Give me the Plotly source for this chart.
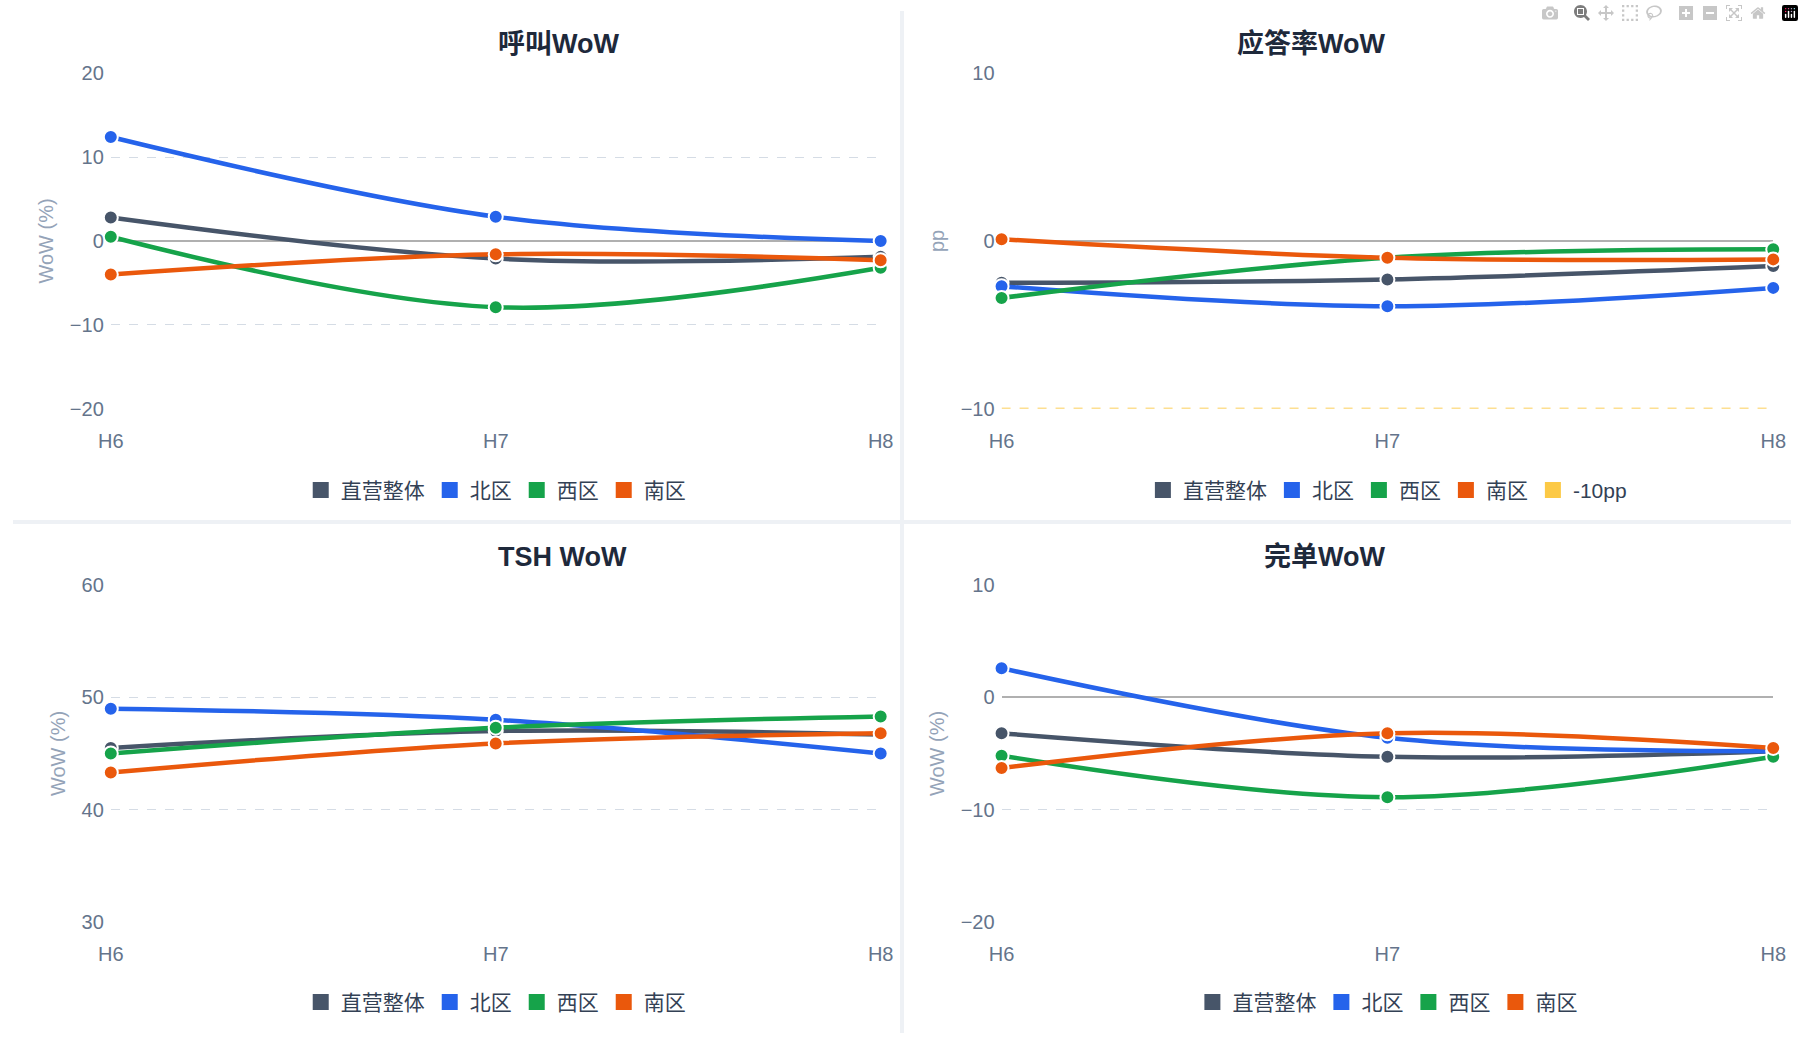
import plotly.graph_objects as go
from plotly.subplots import make_subplots

# data
hours = ["H6", "H7", "H8"]
series = ["直营整体", "北区", "西区", "南区"]
colors = ["#475569", "#2563eb", "#16a34a", "#ea580c"]

call_wow = [[2.8, -2.1, -1.9], [12.4, 2.9, 0.0], [0.5, -7.9, -3.2], [-4.0, -1.6, -2.3]]
answer_wow = [[-2.5, -2.3, -1.5], [-2.7, -3.9, -2.8], [-3.4, -1.0, -0.5], [0.1, -1.0, -1.1]]
tsh_wow = [[45.5, 47.0, 46.7], [49.0, 48.0, 45.0], [45.0, 47.3, 48.3], [43.3, 45.9, 46.8]]
done_wow = [[-3.2, -5.3, -4.8], [2.6, -3.6, -4.8], [-5.2, -8.9, -5.3], [-6.3, -3.2, -4.5]]
threshold = -10

panels = [
    ("呼叫WoW", call_wow, [-20, 20], [-20, -10, 0, 10, 20], "WoW (%)"),
    ("应答率WoW", answer_wow, [-10, 10], [-10, 0, 10], "pp"),
    ("TSH WoW", tsh_wow, [30, 60], [30, 40, 50, 60], "WoW (%)"),
    ("完单WoW", done_wow, [-20, 10], [-20, -10, 0, 10], "WoW (%)"),
]

fig = make_subplots(rows=2, cols=2)
pos = [(1, 1), (1, 2), (2, 1), (2, 2)]
xdom = [[0.055, 0.488], [0.556, 0.990]]
ydom = [[0.611, 0.939], [0.109, 0.438]]
legend_y = [0.531, 0.03]
title_y = [0.968, 0.466]
font = "Liberation Sans, Noto Sans CJK SC, sans-serif"

for i, (title, data, yr, ticks, ytitle) in enumerate(panels):
    r, c = pos[i]
    leg = "legend" if i == 0 else "legend%d" % (i + 1)
    for name, vals, col in zip(series, data, colors):
        fig.add_trace(go.Scatter(x=[0, 1, 2], y=vals, mode="lines+markers", name=name,
                                 line=dict(color=col, width=4.5, shape="spline"),
                                 marker=dict(size=14, color=col, line=dict(color="white", width=2)),
                                 cliponaxis=False, showlegend=False), row=r, col=c)
        fig.add_trace(go.Scatter(x=[None], y=[None], mode="markers", name=name,
                                 marker=dict(symbol="square", size=26, color=col),
                                 legend=leg, showlegend=True), row=r, col=c)
    if i == 1:
        fig.add_trace(go.Scatter(x=[0, 2], y=[threshold, threshold], mode="lines", showlegend=False,
                                 line=dict(color="#fbbf24", width=1.5, dash="dash")), row=r, col=c)
        fig.add_trace(go.Scatter(x=[None], y=[None], mode="markers", name="-10pp", legend=leg,
                                 marker=dict(symbol="square", size=26, color="rgba(251,191,36,0.85)")),
                      row=r, col=c)
    fig.update_xaxes(domain=xdom[c - 1], range=[0, 2], tickvals=[0, 1, 2], ticktext=hours,
                     showgrid=False, zeroline=False, ticklabelstandoff=18,
                     tickfont=dict(size=20, color="#64748b"), row=r, col=c)
    fig.update_yaxes(domain=ydom[r - 1], range=yr, tickvals=ticks, showgrid=True,
                     gridcolor="#d5dce5", griddash="dash", zeroline=True, zerolinecolor="#b0b0b0",
                     zerolinewidth=1.5, tickfont=dict(size=20, color="#64748b"), ticklabelstandoff=6,
                     title=dict(text=ytitle, font=dict(size=20, color="#94a3b8"), standoff=10),
                     row=r, col=c)
    xc = (xdom[c - 1][0] + xdom[c - 1][1]) / 2
    fig.add_annotation(text="<b>%s</b>" % title, x=xc, y=title_y[r - 1], xref="paper", yref="paper",
                       showarrow=False, font=dict(size=27, color="#1e293b"), yanchor="middle")
    fig.update_layout({leg: dict(orientation="h", x=xc, xanchor="center", y=legend_y[r - 1],
                                 yanchor="middle", itemsizing="trace",
                                 font=dict(size=21, color="#334155"),
                                 bgcolor="rgba(0,0,0,0)")})

# panel separators
fig.add_shape(type="line", xref="paper", yref="paper", x0=0.5, x1=0.5, y0=0, y1=1,
              line=dict(color="#eef1f5", width=4))
fig.add_shape(type="line", xref="paper", yref="paper", x0=0, x1=1, y0=0.5, y1=0.5,
              line=dict(color="#eef1f5", width=4))

fig.update_layout(margin=dict(l=0, r=0, t=0, b=0),
                  plot_bgcolor="white", paper_bgcolor="white",
                  font=dict(family=font))
fig.write_html("out.html", default_width="100vw", default_height="100vh",
               config={"responsive": True},
               post_script="document.body.style.margin='0';document.body.style.overflow='hidden';"
                           "Plotly.Plots.resize(document.getElementById('{plot_id}'));")
